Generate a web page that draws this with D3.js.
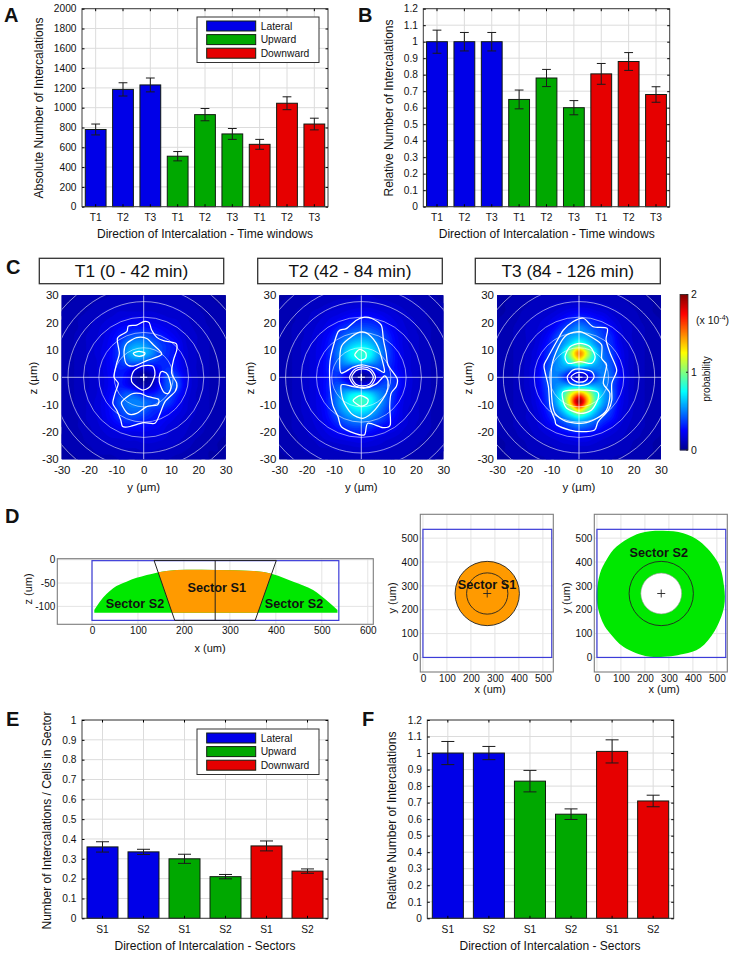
<!DOCTYPE html>
<html><head><meta charset="utf-8">
<script src="https://cdn.jsdelivr.net/npm/d3@7/dist/d3.min.js"></script>
<style>
html,body{margin:0;padding:0;background:#fff}
svg{display:block}
text{font-family:"Liberation Sans",Arial,sans-serif;fill:#111}
</style></head><body>
<svg id="fig" width="734" height="955" viewBox="0 0 734 955"></svg>
<script>
// ---------- bar data ----------
const timeLabels = ["T1","T2","T3","T1","T2","T3","T1","T2","T3"];
const sectorLabels = ["S1","S2","S1","S2","S1","S2"];
const groupsA = ["Lateral","Lateral","Lateral","Upward","Upward","Upward","Downward","Downward","Downward"];
const groupsE = ["Lateral","Lateral","Upward","Upward","Downward","Downward"];
const legendNames = ["Lateral","Upward","Downward"];
const legendColors = ["#0000e8","#00a800","#e60000"];
const absValues = [780,1185,1230,510,930,735,630,1045,835];
const absErr = [55,67,70,47,62,55,50,65,59];
const relValues = [1,1,1,0.65,0.78,0.6,0.805,0.88,0.68];
const relErr = [0.07,0.056,0.056,0.057,0.052,0.043,0.063,0.054,0.047];
const sectorValues = [0.36,0.335,0.3,0.21,0.365,0.238];
const sectorErr = [0.026,0.013,0.023,0.011,0.025,0.011];
const relSectorValues = [1,1,0.83,0.63,1.01,0.71];
const relSectorErr = [0.07,0.04,0.065,0.032,0.07,0.035];
const ticksAbs = [0,200,400,600,800,1000,1200,1400,1600,1800,2000];
const ticksRel = [0,0.1,0.2,0.3,0.4,0.5,0.6,0.7,0.8,0.9,1,1.1,1.2];
const ticksSector = [0,0.1,0.2,0.3,0.4,0.5,0.6,0.7,0.8,0.9,1];

// ---------- heat maps: probability x 100, rows z=30..-30, columns y=-30..30, step 3 um ----------
const heatAxis = d3.range(-30,31,3);
const heatT1 = [
[6,7,8,9,10,10,11,11,12,12,12,12,12,12,11,11,10,9,8,7,6],
[7,8,9,10,11,12,13,13,14,14,14,14,14,14,13,12,11,10,9,8,7],
[8,9,10,11,12,14,15,17,17,17,17,17,16,15,15,14,12,11,10,9,8],
[8,9,11,12,14,16,18,20,22,23,23,21,20,18,17,15,13,12,10,9,8],
[9,10,11,13,15,18,21,26,29,31,30,28,25,22,19,16,14,12,11,9,8],
[9,10,12,14,16,19,24,31,39,44,44,38,32,27,22,17,15,13,11,10,8],
[9,10,12,14,17,20,26,37,50,57,56,48,39,33,27,18,15,13,11,10,8],
[9,10,12,14,17,21,27,38,55,66,64,54,40,33,27,19,15,13,11,10,8],
[9,10,12,14,16,20,27,36,46,50,46,40,34,32,28,19,15,13,11,10,8],
[9,10,12,14,16,20,26,32,30,20,14,20,30,36,30,20,15,13,11,10,8],
[9,10,12,13,16,19,25,31,24,10,4,9,26,42,38,23,16,13,11,10,8],
[9,10,12,13,16,19,25,31,25,14,8,12,28,44,42,24,16,13,11,10,8],
[9,10,12,14,16,20,27,36,43,40,30,30,36,40,33,22,15,13,11,10,8],
[9,10,12,14,17,21,29,42,50,52,49,44,44,38,28,19,15,13,11,10,8],
[9,10,12,14,17,21,28,38,46,48,44,36,33,28,23,18,15,13,11,10,8],
[9,10,11,14,16,20,26,33,38,38,34,31,27,23,19,16,14,12,11,9,8],
[8,9,11,13,15,18,21,25,28,28,27,25,23,19,17,15,13,12,10,9,8],
[8,9,10,12,14,16,18,19,20,20,21,20,20,17,15,14,12,11,10,9,8],
[8,9,10,11,12,14,15,15,16,16,17,17,16,15,14,13,11,10,9,8,7],
[7,8,9,10,11,12,12,13,13,13,14,14,13,13,12,11,10,9,8,8,7],
[6,7,8,9,10,10,10,11,11,11,12,12,11,11,10,10,9,8,8,7,6]];
const heatT2 = [
[7,8,9,10,11,12,12,13,13,13,14,14,13,13,12,12,11,10,9,8,7],
[8,9,10,11,12,13,14,15,16,16,17,17,16,15,14,13,12,11,10,9,8],
[8,9,11,12,14,15,17,18,20,22,23,23,21,19,17,15,13,12,11,9,8],
[9,10,11,13,15,17,20,23,27,30,31,31,29,24,20,17,15,13,11,10,9],
[9,10,12,14,16,19,23,30,36,40,42,41,37,30,23,18,16,13,12,10,9],
[9,10,12,14,17,21,27,37,46,52,55,53,46,36,26,20,16,14,12,10,9],
[9,10,12,15,18,22,30,43,56,66,70,66,54,40,28,20,16,14,12,10,9],
[9,10,12,15,18,23,32,47,64,79,86,78,60,43,30,21,17,14,12,10,9],
[9,10,12,15,18,23,32,45,58,68,72,66,52,40,30,21,17,14,12,10,9],
[9,10,12,15,18,23,32,40,40,30,22,28,38,36,29,22,17,14,12,10,9],
[9,10,12,15,18,23,30,35,24,9,3,8,22,36,34,24,18,14,12,10,9],
[9,10,12,15,18,23,32,42,40,30,24,28,38,42,36,25,18,14,12,10,9],
[9,10,12,15,18,23,32,48,62,72,74,68,56,46,34,22,17,14,12,10,9],
[9,10,12,15,18,23,33,50,68,82,88,80,62,46,32,21,17,14,12,10,9],
[9,10,12,15,18,22,31,46,60,70,74,68,54,40,30,20,16,14,12,10,9],
[9,10,12,14,17,21,28,38,48,54,56,52,44,35,26,20,16,14,12,10,9],
[9,10,12,14,16,19,24,30,36,40,40,36,30,26,23,18,16,13,12,10,9],
[9,10,11,13,15,17,20,23,25,28,28,25,22,20,18,16,14,13,11,10,9],
[8,9,10,12,13,15,16,17,18,19,20,19,18,16,15,14,13,11,10,9,8],
[8,9,10,11,12,13,13,14,14,15,15,15,14,14,13,12,11,10,9,9,8],
[7,8,9,10,10,11,11,12,12,12,13,13,12,12,11,11,10,9,8,8,7]];
const heatT3 = [
[6,7,8,9,10,11,11,12,12,13,13,13,12,12,11,11,10,9,8,7,6],
[7,8,9,10,11,12,13,14,15,16,16,16,15,14,13,12,11,10,9,8,7],
[7,8,9,11,12,14,15,17,20,23,25,24,21,19,16,14,12,11,9,8,7],
[8,9,10,12,14,16,18,22,27,33,38,35,30,26,20,16,14,12,10,9,8],
[8,9,11,13,15,17,20,27,36,46,54,48,40,34,26,18,15,13,11,9,8],
[8,9,11,13,15,18,24,35,48,58,62,58,48,38,32,20,15,13,11,9,8],
[8,9,11,13,15,19,28,40,55,72,90,75,56,42,34,22,16,13,11,9,8],
[8,9,11,13,16,21,32,46,68,108,150,115,72,48,38,24,17,13,11,9,8],
[8,9,11,13,16,22,34,50,64,88,118,92,66,50,40,25,17,13,11,9,8],
[8,9,11,13,17,24,38,52,55,48,45,48,52,52,42,26,17,13,11,9,8],
[8,9,11,13,17,25,40,52,40,20,12,18,38,52,44,28,18,13,11,9,8],
[8,9,11,13,17,24,38,52,58,58,55,58,58,54,42,26,17,13,11,9,8],
[8,9,11,13,16,23,36,56,80,118,145,122,84,60,46,25,17,13,11,9,8],
[8,9,11,13,16,22,34,54,84,135,198,140,88,58,44,24,17,13,11,9,8],
[8,9,11,13,15,20,30,46,66,95,128,98,68,48,36,22,16,13,11,9,8],
[8,9,11,13,15,18,26,36,48,60,70,62,50,38,30,20,15,13,11,9,8],
[8,9,11,12,14,17,21,27,34,42,48,44,36,28,22,17,14,12,11,9,8],
[8,9,10,12,13,15,17,20,23,26,28,26,23,20,17,15,13,12,10,9,8],
[7,8,9,10,12,13,14,15,17,18,19,19,17,15,14,13,12,10,9,8,7],
[7,8,9,10,11,12,12,13,14,14,14,14,14,13,12,12,11,10,9,8,7],
[6,7,8,9,10,10,11,11,12,12,12,12,12,11,11,10,10,9,8,7,6]];

// ---------- contour outlines [y,z] in um ----------
const contoursT1 = [
[[0,20.4],[2,20],[2.9,17.3],[4.8,14.6],[7.2,13.4],[11.8,12.4],[12.1,10],[10.9,6.3],[10.2,1.5],[12.1,-2.2],[11.5,-5.2],[7.8,-8.9],[6,-13.2],[4.1,-16.8],[-0.1,-16.6],[-5,-18],[-7.7,-18],[-8.4,-15.6],[-9.9,-12],[-11.3,-9.5],[-10.5,-5.9],[-9.3,-2.2],[-10.9,0.2],[-9.9,5.1],[-8.9,8.8],[-9.6,14.3],[-6.2,16.7],[-5.6,18.8],[-2.6,19.1]],
[[-7.2,9.4],[-6.2,12.4],[-2.6,14.5],[1.1,14.2],[3.5,11.9],[6.6,8.4],[1.1,6.1],[-3.8,4.1],[-6.5,5.1]],
[[-3.8,8.8],[-1.8,9.5],[0.4,9],[-0.1,8],[-2.6,7.8]],
[[-8,-8.9],[-4.4,-6.1],[-1.3,-5.9],[1.7,-7.1],[5.4,-8],[5,-10.1],[1.1,-10.7],[-2.6,-13.2],[-5.6,-13.4],[-7.7,-10.7]],
[[7.2,2.1],[8.8,0.9],[10,-3.4],[9,-5.9],[7.2,-5.2],[5.7,-1.6],[6,1.5]],
[[-3.8,2.1],[-0.7,4.1],[3.3,4.1],[4.1,0.9],[2.3,-3.4],[-0.7,-4.6],[-4.4,-1.6]]];
const contoursT2 = [
[[1.2,22],[3.7,21.6],[7.3,19.1],[8.1,13.7],[9.1,8.8],[9.8,4.5],[13.1,-0.4],[12.8,-3.4],[10.9,-5.9],[10.4,-10.7],[10.6,-17.4],[7.9,-18.4],[2.4,-16.8],[1.2,-21],[-2.4,-20.5],[-7.3,-18.1],[-8.5,-14.4],[-10.6,-9.5],[-11.6,0.2],[-11.2,7.5],[-8.5,16.6],[-5.5,17.8],[-1.8,20.9]],
[[-0.6,16.5],[2.4,15.9],[6.1,11.2],[8.5,2.1],[5.5,3.3],[0.6,4.5],[-3,3.7],[-7.3,1.5],[-7.9,5.1],[-7.3,11.2],[-4.3,14.3]],
[[-7.3,-2.8],[-3,-3.4],[1.2,-4],[5.5,-2.4],[8.5,0.5],[9.8,-1.6],[9.1,-5.9],[4.9,-12],[0.6,-15],[-3.7,-13.2],[-6.7,-8.3]],
[[-2.4,8.2],[-0.6,10.2],[1.6,9],[1.6,7],[-0.4,6.3]],
[[-3,-8.5],[-0.4,-6.7],[2.4,-8],[2,-9.8],[-0.4,-10.5]],
[[-4.3,0],[-2.5,2.9],[0.5,3.8],[3.5,2.9],[5.2,0],[3.5,-3],[0.5,-3.7],[-2.5,-3]],
[[-3.5,0],[-2,2.4],[0.5,3.1],[3,2.4],[4.4,0],[3,-2.5],[0.5,-3.1],[-2,-2.5]]];
const contoursT3 = [
[[1.6,21.6],[5.2,18.5],[10.3,17.9],[9.9,13.7],[11.4,8.8],[13.8,2.7],[12,-2.2],[12,-8.3],[10.7,-12],[7,-16.2],[5.7,-19.3],[1,-19.9],[-3.3,-19.3],[-8.2,-17.4],[-8.8,-15.6],[-10.6,-10.7],[-11.2,-3.4],[-12.8,3.9],[-11.6,6.9],[-7.5,14.3],[-5.7,17.3],[-2.1,20.4]],
[[0.4,16.7],[5.2,14.3],[8.3,11.8],[8.3,6.9],[10.1,4.5],[8.9,-2.2],[11.3,-5.9],[10.1,-12],[6.5,-15],[1.6,-16.8],[-4.5,-16.2],[-8.8,-13.2],[-10,-7.1],[-10,3.9],[-7.5,11.2],[-4.5,15.5]],
[[-5.1,7.6],[-3.3,11.2],[0.4,12.4],[4.1,11.2],[5.9,7.6],[4.6,5.1],[0.4,5.7],[-3.9,5.1]],
[[-5.7,-5.2],[-0.2,-4.6],[6.5,-5.2],[7,-7.7],[4.6,-12],[0.4,-13.2],[-4.5,-11.3],[-6,-7.7]],
[[-4.3,0.2],[-2.1,2.7],[1,3],[4.6,2.1],[5.5,0],[3.4,-2.4],[-0.2,-3],[-3.3,-2.2]],
[[-2.9,0],[-1.5,1.4],[0.3,1.8],[2.2,1.4],[3.2,0],[2.2,-1.4],[0.3,-1.8],[-1.5,-1.4]]];
const ringRadii = [10.8,16.4,22,27.7,33.3,38.9];
const heatTicks = [-30,-20,-10,0,10,20,30];
const heatTitles = ["T1 (0 - 42 min)","T2 (42 - 84 min)","T3 (84 - 126 min)"];
const jetStops = [0,0.25,0.75,1.25,1.75,2];
const jetColors = ["#00008f","#0000ff","#00ffff","#ffff00","#ff0000","#800000"];

// ---------- sector geometry in um ----------
const domeX = [5,17,46,75,119,162,206,271,351,394,438,481,514,534];
const domeTop = [-108,-90,-61,-47,-33,-24,-21.5,-22,-24,-31,-47,-65,-90,-108];
const domeBottom = -113.5;
const boxSize = 537;
const sectorTop = [135,-1.5,401];
const sectorBottom = [180,-130,355];
const centre = 268;
const s1Radius = 134;
const innerRadius = 86;
const greenOutline = [[276,531],[360,521],[429,486],[506,395],[530,297],[530,213],[490,110],[430,40],[360,14],[221,3],[110,45],[55,100],[26,143],[-1,241],[13,353],[40,410],[82,465],[179,521]];
const ticksSideX = [0,100,200,300,400,500,600];
const ticksSideZ = [0,-50,-100];
const ticksTop = [0,100,200,300,400,500];

// ---------- helpers ----------
const svg = d3.select("#fig");
const colorOf = d3.scaleOrdinal(legendNames, legendColors);
function txt(g,x,y,s,o={}){
  const t=g.append("text").attr("x",x).attr("y",y).text(s)
    .attr("font-size",o.size||10).attr("text-anchor",o.anchor||"middle");
  if(o.weight)t.attr("font-weight",o.weight);
  if(o.rotate)t.attr("transform",`rotate(-90 ${x} ${y})`);
  if(o.length)t.attr("textLength",o.length).attr("lengthAdjust","spacingAndGlyphs");
  return t;
}
function styleAxis(g,size){
  g.select(".domain").remove();
  g.selectAll("text").attr("font-size",size||10).attr("fill","#111").style("font-family",'"Liberation Sans",Arial,sans-serif');
}
const fmt = d=>d3.format("~g")(d).replace("\u2212","-");

// ---------- bar panel ----------
function barPanel(o){
  const g=svg.append("g");
  const x=d3.scaleBand().domain(d3.range(o.values.length)).range([o.x0,o.x1]).paddingInner(o.pad).paddingOuter(o.pad/2);
  const y=d3.scaleLinear().domain([0,o.max]).range([o.y1,o.y0]);
  g.append("g").selectAll("line").data(o.ticks).join("line")
    .attr("x1",o.x0).attr("x2",o.x1).attr("y1",d=>y(d)).attr("y2",d=>y(d)).attr("stroke","#dcdcdc").attr("stroke-width",1);
  g.append("g").selectAll("line").data(o.values).join("line")
    .attr("x1",(d,i)=>x(i)+x.bandwidth()/2).attr("x2",(d,i)=>x(i)+x.bandwidth()/2)
    .attr("y1",o.y0).attr("y2",o.y1).attr("stroke","#dcdcdc").attr("stroke-width",1);
  g.append("g").selectAll("rect").data(o.values).join("rect")
    .attr("x",(d,i)=>x(i)).attr("width",x.bandwidth())
    .attr("y",d=>y(d)).attr("height",d=>y(0)-y(d))
    .attr("fill",(d,i)=>colorOf(o.groups[i])).attr("stroke","#101a10").attr("stroke-width",1);
  const eb=g.append("g").attr("stroke","#1a1a1a").attr("stroke-width",1);
  o.values.forEach((v,i)=>{
    const c=x(i)+x.bandwidth()/2,e=o.err[i],w=o.cap;
    eb.append("line").attr("x1",c).attr("x2",c).attr("y1",y(v+e)).attr("y2",y(v-e));
    eb.append("line").attr("x1",c-w).attr("x2",c+w).attr("y1",y(v+e)).attr("y2",y(v+e));
    eb.append("line").attr("x1",c-w).attr("x2",c+w).attr("y1",y(v-e)).attr("y2",y(v-e));
  });
  g.append("rect").attr("x",o.x0).attr("y",o.y0).attr("width",o.x1-o.x0).attr("height",o.y1-o.y0)
    .attr("fill","none").attr("stroke","#3c3c3c").attr("stroke-width",1);
  const left=g.append("g").attr("transform",`translate(${o.x0},0)`).call(d3.axisRight(y).tickValues(o.ticks).tickSize(2.5).tickFormat(""));
  const right=g.append("g").attr("transform",`translate(${o.x1},0)`).call(d3.axisLeft(y).tickValues(o.ticks).tickSize(2.5).tickFormat(""));
  styleAxis(left);styleAxis(right);
  const top=g.append("g").attr("transform",`translate(0,${o.y0})`).call(d3.axisBottom(x).tickSize(2.5).tickFormat(""));
  styleAxis(top);
  const bot=g.append("g").attr("transform",`translate(0,${o.y1})`).call(d3.axisTop(x).tickSize(2.5).tickFormat(""));styleAxis(bot);
  const yl=g.append("g").attr("transform",`translate(${o.tickRight},0)`).call(d3.axisLeft(y).tickValues(o.ticks).tickSize(0).tickPadding(0).tickFormat(fmt));
  styleAxis(yl,10.2);
  g.append("g").selectAll("text").data(o.labels).join("text")
    .attr("x",(d,i)=>x(i)+x.bandwidth()/2).attr("y",o.labelY).attr("text-anchor","middle").attr("font-size",10.2).text(d=>d);
  txt(g,o.xTitleX,o.xTitleY,o.xTitle,{size:12,length:o.xLen});
  txt(g,o.yTitleX,o.yTitleY,o.yTitle,{size:12,rotate:true,length:o.yLen});
  if(o.legendY!==undefined){
    const lg=g.append("g");
    lg.append("rect").attr("x",197).attr("y",o.legendY).attr("width",122).attr("height",45.5).attr("fill","#fff").attr("stroke","#333").attr("stroke-width",1);
    const rows=lg.selectAll("g").data(legendNames).join("g").attr("transform",(d,i)=>`translate(0,${o.legendY+4+i*13.6})`);
    rows.append("rect").attr("x",206.7).attr("y",0).attr("width",49).attr("height",10).attr("fill",d=>colorOf(d)).attr("stroke","#102010");
    rows.append("text").attr("x",260.7).attr("y",8.8).attr("font-size",10.3).text(d=>d);
  }
}
barPanel({values:absValues,err:absErr,labels:timeLabels,groups:groupsA,max:2000,ticks:ticksAbs,x0:82,x1:328,y0:8.7,y1:206.7,pad:0.24,cap:4.4,tickRight:76.5,labelY:221,xTitle:"Direction of Intercalation - Time windows",xTitleX:205,xTitleY:238,xLen:216,yTitle:"Absolute Number of Intercalations",yTitleX:43,yTitleY:108,yLen:181,legendY:17});
barPanel({values:relValues,err:relErr,labels:timeLabels,groups:groupsA,max:1.2,ticks:ticksRel,x0:423.3,x1:669.7,y0:8.7,y1:206.7,pad:0.24,cap:4.4,tickRight:418,labelY:221,xTitle:"Direction of Intercalation - Time windows",xTitleX:546.7,xTitleY:238,xLen:216,yTitle:"Relative Number of Intercalations",yTitleX:393,yTitleY:108,yLen:177});
barPanel({values:sectorValues,err:sectorErr,labels:sectorLabels,groups:groupsE,max:1,ticks:ticksSector,x0:82,x1:328,y0:720,y1:918.3,pad:0.244,cap:6.5,tickRight:76.5,labelY:933,xTitle:"Direction of Intercalation - Sectors",xTitleX:205,xTitleY:950,xLen:181,yTitle:"Number of Intercalations / Cells in Sector",yTitleX:50.7,yTitleY:820.5,yLen:218,legendY:729});
barPanel({values:relSectorValues,err:relSectorErr,labels:sectorLabels,groups:groupsE,max:1.2,ticks:ticksRel,x0:427.3,x1:673.7,y0:720,y1:918.3,pad:0.244,cap:6.5,tickRight:422,labelY:933,xTitle:"Direction of Intercalation - Sectors",xTitleX:550,xTitleY:950,xLen:181,yTitle:"Relative Number of Intercalations",yTitleX:396,yTitleY:820.5,yLen:178});

// ---------- heat maps ----------
const jet=d3.scaleLinear().domain(jetStops).range(jetColors).clamp(true);
function catmull(a,b,c,d,t){return 0.5*(2*b+(c-a)*t+(2*a-5*b+4*c-d)*t*t+(3*b-a-3*c+d)*t*t*t);}
function smoothGrid(rows,k){ // display smoothing of the read grid
  const n=rows.length,m=(n-1)*k+1,out=new Array(m*m);
  const at=(r,c)=>rows[Math.max(0,Math.min(n-1,r))][Math.max(0,Math.min(n-1,c))]/100;
  for(let i=0;i<m;i++){const r=Math.floor(i/k),tr=i/k-r;
    for(let j=0;j<m;j++){const c=Math.floor(j/k),tc=j/k-c;
      const col=[-1,0,1,2].map(dr=>catmull(at(r+dr,c-1),at(r+dr,c),at(r+dr,c+1),at(r+dr,c+2),tc));
      out[i*m+j]=Math.max(0,catmull(col[0],col[1],col[2],col[3],tr));
    }}
  return {m,values:out};
}
const defs=svg.append("defs");
const thresholds=d3.range(0.02,2.02,0.03);
function heatPanel(idx,grid,contours,px0,boxX0,boxX1){
  const g=svg.append("g");
  const py0=295.3,size=164;
  const sx=d3.scaleLinear().domain([-30,30]).range([px0,px0+size]);
  const sz=d3.scaleLinear().domain([30,-30]).range([py0,py0+size]);
  g.append("rect").attr("x",boxX0).attr("y",258.3).attr("width",boxX1-boxX0).attr("height",25.4).attr("fill","#fff").attr("stroke","#333").attr("stroke-width",1.3);
  txt(g,(boxX0+boxX1)/2,276.5,heatTitles[idx],{size:17.3});
  const id="clip"+idx;
  defs.append("clipPath").attr("id",id).append("rect").attr("x",px0).attr("y",py0).attr("width",size).attr("height",size);
  const plot=g.append("g").attr("clip-path",`url(#${id})`);
  plot.append("rect").attr("x",px0).attr("y",py0).attr("width",size).attr("height",size).attr("fill",jet(0.04));
  const k=6,s=smoothGrid(grid,k);
  const step=60/(s.m-1);
  const bands=d3.contours().size([s.m,s.m]).thresholds(thresholds)(s.values);
  const proj=d3.geoTransform({point(x,y){this.stream.point(sx(-30+(x-0.5)*step),sz(30-(y-0.5)*step));}});
  const path=d3.geoPath(proj);
  plot.append("g").selectAll("path").data(bands).join("path").attr("d",path)
    .attr("fill",d=>jet(d.value)).attr("stroke",d=>jet(d.value)).attr("stroke-width",0.4);
  plot.append("g").selectAll("circle").data(ringRadii).join("circle")
    .attr("cx",sx(0)).attr("cy",sz(0)).attr("r",d=>sx(d)-sx(0))
    .attr("fill","none").attr("stroke","#fff").attr("stroke-opacity",0.62).attr("stroke-width",0.9);
  plot.append("line").attr("x1",px0).attr("x2",px0+size).attr("y1",sz(0)).attr("y2",sz(0)).attr("stroke","#fff").attr("stroke-opacity",0.75).attr("stroke-width",0.9);
  plot.append("line").attr("x1",sx(0)).attr("x2",sx(0)).attr("y1",py0).attr("y2",py0+size).attr("stroke","#fff").attr("stroke-opacity",0.75).attr("stroke-width",0.9);
  const cl=d3.line().x(d=>sx(d[0])).y(d=>sz(d[1])).curve(d3.curveCardinalClosed.tension(0.2));
  plot.append("g").selectAll("path").data(contours).join("path").attr("d",cl)
    .attr("fill","none").attr("stroke","#fff").attr("stroke-width",1.25);
  plot.append("path").attr("d",`M${sx(-1.3)},${sz(0)}H${sx(1.3)}M${sx(0)},${sz(1.3)}V${sz(-1.3)}`).attr("stroke","#fff").attr("stroke-width",1.1).attr("fill","none");
  const ax=g.append("g").attr("transform",`translate(0,${py0+size})`).call(d3.axisBottom(sx).tickValues(heatTicks).tickSize(0).tickPadding(5).tickFormat(fmt));
  styleAxis(ax,11.5);
  ax.selectAll("text").attr("dy",0).attr("y",15);
  const az=g.append("g").attr("transform",`translate(${px0-3},0)`).call(d3.axisLeft(sz).tickValues(heatTicks).tickSize(0).tickPadding(0).tickFormat(fmt));
  styleAxis(az,11.5);
  txt(g,px0+82,491,"y (µm)",{size:11.5});
  txt(g,px0-25,378,"z (µm)",{size:11.5,rotate:true});
}
heatPanel(0,heatT1,contoursT1,61.7,39.3,223.7);
heatPanel(1,heatT2,contoursT2,279.3,257.7,442.3);
heatPanel(2,heatT3,contoursT3,497,475.3,660.3);

// colour bar
(function(){
  const g=svg.append("g");
  const y=d3.scaleLinear().domain([0,2]).range([450,294.5]);
  const levels=d3.range(0,2,0.01);
  g.append("g").selectAll("rect").data(levels).join("rect")
    .attr("x",680).attr("width",8).attr("y",d=>y(d+0.01)-0.4).attr("height",d=>y(d)-y(d+0.01)+0.8).attr("fill",d=>jet(d));
  g.append("rect").attr("x",680).attr("y",294.5).attr("width",8).attr("height",155.5).attr("fill","none").attr("stroke","#333").attr("stroke-width",0.8);
  g.append("g").selectAll("line").data([0,1,2]).join("line").attr("x1",686).attr("x2",688).attr("y1",d=>y(d)).attr("y2",d=>y(d)).attr("stroke","#222");
  g.append("g").selectAll("text").data([0,1,2]).join("text").attr("x",691).attr("y",d=>y(d)+3.5).attr("font-size",10.5).text(d=>d);
  const t=g.append("text").attr("x",696).attr("y",324).attr("font-size",10.5);
  t.append("tspan").text("(x 10");
  t.append("tspan").text("-4").attr("font-size",7).attr("dy",-4);
  t.append("tspan").text(")").attr("dy",4);
  txt(g,710,379,"probability",{size:10,rotate:true});
})();

// ---------- panel D ----------
function frame(x0,x1,y0,y1,xs,ys,xt,yt,xLabelY,tickSize){
  const g=svg.append("g");
  g.append("g").selectAll("line").data(xt).join("line").attr("x1",d=>xs(d)).attr("x2",d=>xs(d)).attr("y1",y0).attr("y2",y1).attr("stroke","#e4e4e4");
  g.append("g").selectAll("line").data(yt).join("line").attr("x1",x0).attr("x2",x1).attr("y1",d=>ys(d)).attr("y2",d=>ys(d)).attr("stroke","#e4e4e4");
  const lay=svg.append("g");
  return {g,lay,finish(){
    const f=svg.append("g");
    f.append("rect").attr("x",x0).attr("y",y0).attr("width",x1-x0).attr("height",y1-y0).attr("fill","none").attr("stroke","#7d7d7d").attr("stroke-width",1.1);
    const ax=f.append("g").attr("transform",`translate(0,${y1})`).call(d3.axisBottom(xs).tickValues(xt).tickSize(0).tickPadding(0).tickFormat(fmt));
    styleAxis(ax,tickSize);ax.selectAll("text").attr("dy",0).attr("y",xLabelY-y1);
    const ay=f.append("g").attr("transform",`translate(${x0-2},0)`).call(d3.axisLeft(ys).tickValues(yt).tickSize(0).tickPadding(0).tickFormat(fmt));
    styleAxis(ay,tickSize);
    return f;
  }};
}
const blueBox="#3c3cd8", orange="#ff9a00", green="#00e800";
(function(){
  const xs=d3.scaleLinear().domain([-75.5,612]).range([57.3,373.3]);
  const zs=d3.scaleLinear().domain([2.2,-138.4]).range([558.7,624.3]);
  const fr=frame(57.3,373.3,558.7,624.3,xs,zs,ticksSideX,ticksSideZ,634,10);
  const area=d3.area().x((d,i)=>xs(domeX[i])).y0(zs(domeBottom)).y1((d,i)=>zs(domeTop[i])).curve(d3.curveMonotoneX);
  fr.lay.append("path").attr("d",area(domeX)).attr("fill",green);
  const trap=[[sectorTop[0],sectorTop[1]],[sectorTop[2],sectorTop[1]],[sectorBottom[2],sectorBottom[1]],[sectorBottom[0],sectorBottom[1]]];
  const tl=d3.line().x(d=>xs(d[0])).y(d=>zs(d[1])).curve(d3.curveLinearClosed);
  defs.append("clipPath").attr("id","trapclip").append("path").attr("d",tl(trap));
  fr.lay.append("path").attr("d",area(domeX)).attr("fill",orange).attr("clip-path","url(#trapclip)");
  fr.lay.append("rect").attr("x",xs(0)).attr("y",zs(-2)).attr("width",xs(boxSize)-xs(0)).attr("height",zs(-130)-zs(-2)).attr("fill","none").attr("stroke",blueBox).attr("stroke-width",1.2);
  fr.lay.append("path").attr("d",tl(trap)).attr("fill","none").attr("stroke","#222").attr("stroke-width",1);
  fr.lay.append("line").attr("x1",xs(centre)).attr("x2",xs(centre)).attr("y1",zs(sectorTop[1])).attr("y2",zs(sectorBottom[1])).attr("stroke","#222").attr("stroke-width",1);
  const f=fr.finish();
  txt(f,216.7,592,"Sector S1",{size:12.7,weight:"bold"});
  txt(f,135,608,"Sector S2",{size:12.7,weight:"bold"});
  txt(f,294,608,"Sector S2",{size:12.7,weight:"bold"});
  txt(f,210,652,"x (um)",{size:11});
  txt(f,32,589,"z (um)",{size:11,rotate:true});
})();
function topView(px0,title,titleX,titleY,isRing,yTitleX){
  const xs=d3.scaleLinear().domain([-11,543.4]).range([px0,px0+133]);
  const ys=d3.scaleLinear().domain([-61,600]).range([672,514.3]);
  const fr=frame(px0,px0+133,514.3,672,xs,ys,ticksTop,ticksTop,682,10);
  const rx=r=>xs(r)-xs(0);
  if(isRing){
    const ol=d3.line().x(d=>xs(d[0])).y(d=>ys(d[1])).curve(d3.curveCatmullRomClosed);
    fr.lay.append("path").attr("d",ol(greenOutline)).attr("fill",green);
    fr.lay.append("circle").attr("cx",xs(centre)).attr("cy",ys(centre)).attr("r",rx(innerRadius-1)).attr("fill","#fff").attr("stroke","#9a9a9a").attr("stroke-width",0.6);
  }else{
    fr.lay.append("circle").attr("cx",xs(centre)).attr("cy",ys(centre)).attr("r",rx(s1Radius)).attr("fill",orange);
  }
  fr.lay.append("rect").attr("x",xs(0)).attr("y",ys(boxSize)).attr("width",rx(boxSize)).attr("height",ys(0)-ys(boxSize)).attr("fill","none").attr("stroke",blueBox).attr("stroke-width",1.2);
  fr.lay.append("circle").attr("cx",xs(centre)).attr("cy",ys(centre)).attr("r",rx(s1Radius)).attr("fill","none").attr("stroke","#222").attr("stroke-width",0.9);
  if(!isRing) fr.lay.append("circle").attr("cx",xs(centre)).attr("cy",ys(centre)).attr("r",rx(innerRadius)).attr("fill","none").attr("stroke","#222").attr("stroke-width",0.9);
  fr.lay.append("path").attr("d",`M${xs(centre)-4},${ys(centre)}h8M${xs(centre)},${ys(centre)-4}v8`).attr("stroke","#222").attr("stroke-width",0.9);
  const f=fr.finish();
  txt(f,titleX,titleY,title,{size:12.7,weight:"bold"});
  txt(f,px0+69.7,693,"x (um)",{size:11});
  txt(f,yTitleX,598,"y (um)",{size:11,rotate:true});
}
topView(420.3,"Sector S1",487,589,false,396);
topView(594.3,"Sector S2",658.7,557,true,570);

// ---------- panel letters ----------
const panelLetters=[["A",4,22],["B",358,22],["C",6,274],["D",5,523],["E",6,726],["F",362,726]];
svg.append("g").selectAll("text").data(panelLetters).join("text")
  .attr("x",d=>d[1]).attr("y",d=>d[2]).attr("font-size",20).attr("font-weight","bold").attr("fill","#000").text(d=>d[0]);
</script>
</body></html>
